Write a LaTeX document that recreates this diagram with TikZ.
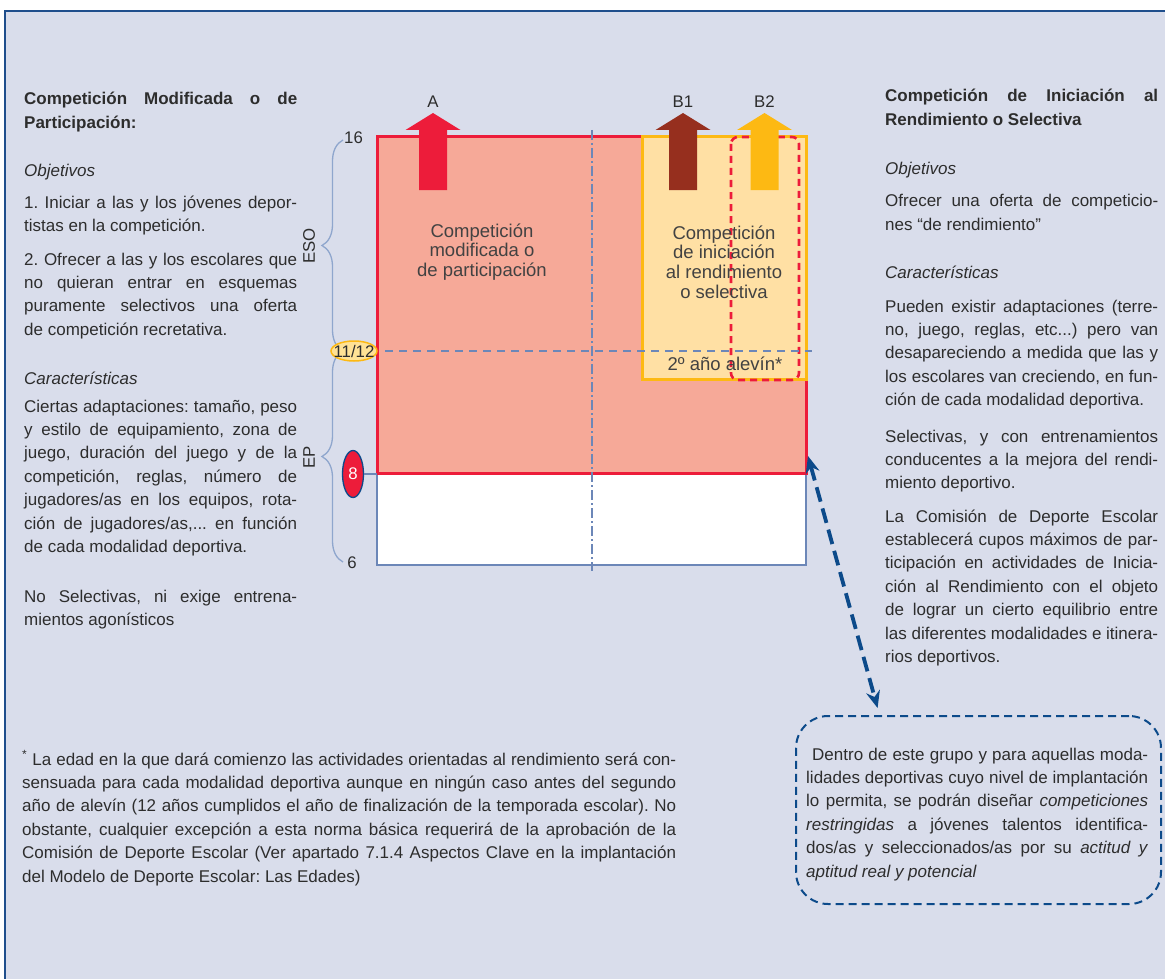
\documentclass[tikz,border=0pt]{standalone}
\usepackage{fontspec}
\setmainfont{Liberation Sans}
\usepackage{xcolor}
\usepackage{tikz}
\usetikzlibrary{arrows.meta, positioning, calc, shapes.geometric, decorations.pathreplacing}

\definecolor{panelbg}{RGB}{217,221,235}
\definecolor{framebl}{RGB}{31,78,140}
\definecolor{salmon}{RGB}{246,169,152}
\definecolor{compred}{RGB}{237,28,58}
\definecolor{compbrown}{RGB}{150,47,30}
\definecolor{comporange}{RGB}{253,185,19}
\definecolor{palecream}{RGB}{255,224,164}
\definecolor{paleyel}{RGB}{255,226,150}
\definecolor{gridblue}{RGB}{108,135,184}
\definecolor{braceblue}{RGB}{143,166,205}
\definecolor{navy}{RGB}{12,74,138}
\definecolor{ink}{RGB}{45,45,45}

\newcommand{\bodysize}{\fontsize{17}{23.4}\selectfont}
\tolerance=9999
\hbadness=10000
\hyphenpenalty=10000
\frenchspacing

\begin{document}
\begin{tikzpicture}[
  x=1pt, y=1pt,
  para/.style={anchor=base west, inner sep=0pt, text width=273pt,
               align=justify, font=\bodysize, text=ink},
  head/.style={para, font=\bodysize\bfseries},
  sub/.style={para, font=\bodysize\itshape},
  blocktxt/.style={align=center, inner sep=0pt, text=ink!90,
                   font=\fontsize{18.5}{19.7}\selectfont},
  tag/.style={inner sep=0pt, text=ink, font=\fontsize{16.8}{18}\selectfont},
  gridline/.style={draw=gridblue, line width=1.6pt},
  agebrace/.style={draw=braceblue, line width=1.3pt, decorate,
                   decoration={brace, amplitude=21pt}},
  dashlink/.style={draw=navy, line width=3.8pt, dash pattern=on 15pt off 7pt,
                   >={Stealth[length=17pt, width=14pt]}, <->},
  notebox/.style={draw=navy, line width=2pt, dash pattern=on 8pt off 5pt,
                  rounded corners=32pt, anchor=north west, inner sep=0pt,
                  minimum width=365pt, minimum height=188pt}
]

% --- Panel ---
\useasboundingbox (0,0) rectangle (1165,-979);
\fill[white] (0,0) rectangle (1165,-979);
\fill[panelbg] (5,-11) rectangle (1170,-985);
\draw[framebl, line width=2pt] (5,-985) -- (5,-11) -- (1170,-11);

% --- Left column ---
\node[head] (lhead) at (24,-105) {Competición Modificada o de\linebreak Participación:};
\node[sub] (lobj) at (24,-177) {Objetivos};
\node[para] (lobj1) at (24,-208) {1. Iniciar a las y los jóvenes depor-\linebreak tistas en la competición.};
\node[para] (lobj2) at (24,-265) {2. Ofrecer a las y los escolares que\linebreak no quieran entrar en esquemas\linebreak puramente selectivos una oferta\linebreak de competición recretativa.};
\node[sub] (lcar) at (24,-384) {Características};
\node[para] (lcar1) at (24,-412) {Ciertas adaptaciones: tamaño, peso\linebreak y estilo de equipamiento, zona de\linebreak juego, duración del juego y de la\linebreak competición, reglas, número de\linebreak jugadores/as en los equipos, rota-\linebreak ción de jugadores/as,... en función\linebreak de cada modalidad deportiva.};
\node[para] (lcar2) at (24,-602) {No Selectivas, ni exige entrena-\linebreak mientos agonísticos};

% --- Right column ---
\node[head] (rhead) at (885,-102) {Competición de Iniciación al\linebreak Rendimiento o Selectiva};
\node[sub] (robj) at (885,-175) {Objetivos};
\node[para] (robj1) at (885,-207) {Ofrecer una oferta de competicio-\linebreak nes “de rendimiento”};
\node[sub] (rcar) at (885,-278) {Características};
\node[para] (rcar1) at (885,-312) {Pueden existir adaptaciones (terre-\linebreak no, juego, reglas, etc...) pero van\linebreak desapareciendo a medida que las y\linebreak los escolares van creciendo, en fun-\linebreak ción de cada modalidad deportiva.};
\node[para] (rcar2) at (885,-442) {Selectivas, y con entrenamientos\linebreak conducentes a la mejora del rendi-\linebreak miento deportivo.};
\node[para] (rcar3) at (885,-522) {La Comisión de Deporte Escolar\linebreak establecerá cupos máximos de par-\linebreak ticipación en actividades de Inicia-\linebreak ción al Rendimiento con el objeto\linebreak de lograr un cierto equilibrio entre\linebreak las diferentes modalidades e itinera-\linebreak rios deportivos.};

% --- Age blocks ---
\coordinate (mNW) at (377,-137);
\coordinate (mSE) at (806,-473);
\coordinate (wSE) at (806,-565);
\draw[gridblue, fill=white, line width=1.4pt] (mNW |- mSE) rectangle (wSE);
\draw[compred, fill=salmon, line width=3pt] (mNW) rectangle (mSE);
\draw[comporange, fill=palecream, line width=3pt] (642,-137) rectangle (806,-379);
\draw[compred, line width=2.6pt, dash pattern=on 7pt off 5pt, rounded corners=7pt]
  (731,-137) rectangle (799,-380);
\draw[gridline, dash pattern=on 10pt off 3pt on 2pt off 3pt] (592,-130) -- (592,-571);
\draw[gridline, dash pattern=on 8pt off 6pt] (385,-351) -- (812,-351);

% --- Block arrows A, B1, B2 ---
\foreach \cx/\col/\lab in {433/compred/A, 683/compbrown/B1, 764.5/comporange/B2}{
  \fill[\col] (\cx,-113) -- ++(27.5,-17) -- ++(-13.5,0) -- ++(0,-60)
    -- ++(-28,0) -- ++(0,60) -- ++(-13.5,0) -- cycle;
  \node[tag] (lbl\lab) at (\cx,-102) {\lab};
}

\node[blocktxt] (modtxt) at (482,-252) {Competición\\modificada o\\de participación};
\node[blocktxt] (seltxt) at (724,-262) {Competición\\de iniciación\\al rendimiento\\o selectiva};
\node[blocktxt] (alevin) at (725,-364) {2º año alevín*};

% --- Age scale ---
\draw[agebrace] (343,-351) -- (343,-140);
\draw[agebrace] (343,-562) -- (343,-351);
\node[tag, rotate=90] (eso) at (309,-246) {ESO};
\node[tag, rotate=90] (ep) at (309,-457) {EP};
\node[tag, anchor=west] (y16) at (344,-138) {16};
\node[tag] (y6) at (352,-563) {6};
\draw[comporange, fill=paleyel, line width=1.5pt] (354,-351) ellipse [x radius=23pt, y radius=10pt];
\node[tag] (y11) at (354,-351) {11/12};
\node[ellipse, draw=navy, fill=compred, text=white, line width=1.3pt, inner sep=0pt,
      minimum width=21pt, minimum height=47pt, font=\fontsize{16.8}{18}\selectfont] (y8) at (353,-474) {8};
\draw[gridline] (y8.east) -- (y8.east -| mNW);

% --- Note box and link ---
\node[notebox] (grupo) at (795,-715) {};
\node[para, text width=342pt] (grupotxt) at (806,-760) {\hspace*{6pt}Dentro de este grupo y para aquellas moda-\linebreak lidades deportivas cuyo nivel de implantación\linebreak lo permita, se podrán diseñar \textit{competiciones}\linebreak \textit{restringidas} a jóvenes talentos identifica-\linebreak dos/as y seleccionados/as por su \textit{actitud y}\linebreak \textit{aptitud real y potencial}};
\coordinate (reach) at (808,-456);
\draw[dashlink] (reach) -- ($(grupo.north west)!0.225!(grupo.north east)+(0,7)$);

% --- Footnote ---
\node[para, text width=654pt] (fnote) at (22,-765) {\textsuperscript{*} La edad en la que dará comienzo las actividades orientadas al rendimiento será con-\linebreak sensuada para cada modalidad deportiva aunque en ningún caso antes del segundo\linebreak año de alevín (12 años cumplidos el año de finalización de la temporada escolar). No\linebreak obstante, cualquier excepción a esta norma básica requerirá de la aprobación de la\linebreak Comisión de Deporte Escolar (Ver apartado 7.1.4 Aspectos Clave en la implantación\linebreak del Modelo de Deporte Escolar: Las Edades)};

\end{tikzpicture}
\end{document}
